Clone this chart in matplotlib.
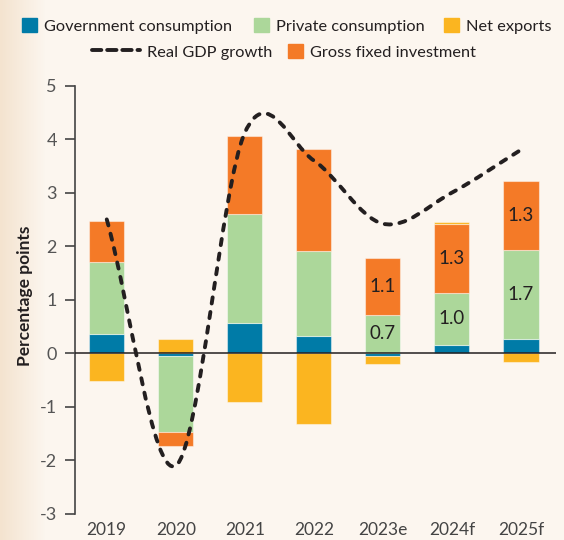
import matplotlib
matplotlib.use('Agg')
import matplotlib.pyplot as plt
import matplotlib.patches as mpatches
from matplotlib.path import Path
from matplotlib.lines import Line2D
import numpy as np

years = ['2019', '2020', '2021', '2022', '2023e', '2024f', '2025f']
gov = [0.35, -0.05, 0.56, 0.33, -0.06, 0.15, 0.26]
private = [1.36, -1.42, 2.04, 1.58, 0.72, 0.98, 1.67]
invest = [0.76, -0.26, 1.45, 1.90, 1.05, 1.28, 1.29]
net_exports = [-0.52, 0.26, -0.91, -1.32, -0.14, 0.05, -0.17]
gdp = [2.5, -2.1, 4.12, 3.6, 2.42, 3.0, 3.8]
private_labels = ['', '', '', '', '0.7', '1.0', '1.7']
invest_labels = ['', '', '', '', '1.1', '1.3', '1.3']

c_gov = '#007BA7'
c_priv = '#ACD79A'
c_net = '#FBB520'
c_inv = '#F47A27'
c_text = '#231F20'

plt.rcParams['font.family'] = ['Lato', 'DejaVu Sans']
plt.rcParams['axes.unicode_minus'] = False

fig = plt.figure(figsize=(5.64, 5.40), dpi=100, facecolor='#FCF6EF')

# soft tan shading on the left edge
bg = fig.add_axes([0, 0, 1, 1], zorder=-10)
bg.axis('off')
grad = np.zeros((2, 564, 4))
grad[:, :, :3] = np.array([0xF4, 0xE3, 0xCF]) / 255
grad[:, :, 3] = np.clip(1 - np.arange(564) / 45.0, 0, 1)
bg.imshow(grad, aspect='auto', extent=[0, 1, 0, 1])

ax = fig.add_axes([0.133, 0.0485, 0.853, 0.793])
ax.set_facecolor('none')

x = np.arange(len(years))
pos_base = np.zeros(len(years))
neg_base = np.zeros(len(years))
containers = []
for vals, col in zip([gov, private, invest, net_exports], [c_gov, c_priv, c_inv, c_net]):
    v = np.array(vals)
    bottom = np.where(v >= 0, pos_base, neg_base)
    bars = ax.bar(x, v, 0.51, bottom=bottom, color=col,
                  edgecolor=(1, 1, 1, 0.45), linewidth=0.8, zorder=2)
    containers.append(bars)
    pos_base += np.where(v >= 0, v, 0)
    neg_base += np.where(v < 0, v, 0)

ax.bar_label(containers[1], labels=private_labels, label_type='center',
             fontsize=13.5, color=c_text)
ax.bar_label(containers[2], labels=invest_labels, label_type='center',
             fontsize=13.5, color=c_text)

ax.axhline(0, color=c_text, lw=1.1, zorder=3)

# smoothed GDP line (Catmull-Rom as cubic Bezier)
y = np.array(gdp)
n = len(y)
m = np.zeros(n)
m[1:-1] = (y[2:] - y[:-2]) / 2
m[0] = y[1] - y[0]
m[-1] = y[-1] - y[-2]
verts = [(x[0], y[0])]
codes = [Path.MOVETO]
for i in range(n - 1):
    verts += [(x[i] + 1 / 3, y[i] + m[i] / 3),
              (x[i + 1] - 1 / 3, y[i + 1] - m[i + 1] / 3),
              (x[i + 1], y[i + 1])]
    codes += [Path.CURVE4] * 3
gdp_patch = mpatches.PathPatch(Path(verts, codes), fill=False, edgecolor=c_text,
                               lw=2.8, linestyle=(0, (1.6, 2.2)), capstyle='round',
                               zorder=4)
ax.add_patch(gdp_patch)

ax.set_xlim(-0.46, 6.51)
ax.set_ylim(-3, 5)
ax.set_xticks(x)
ax.set_xticklabels(years)
ax.set_yticks(range(-3, 6))
for s in ['top', 'right', 'bottom']:
    ax.spines[s].set_visible(False)
ax.spines['left'].set_color('#444444')
ax.spines['left'].set_linewidth(1.2)
ax.tick_params(axis='y', length=7, width=1.2, color='#444444', pad=6,
               labelsize=13, labelcolor='#555555')
ax.tick_params(axis='x', length=0, pad=6, labelsize=12.5, labelcolor='#444444')

ax.set_ylabel('Percentage points', fontsize=12.5, fontweight='bold', color=c_text)
ax.yaxis.set_label_coords(-0.0875, 0.51)

# legend, one entry at a time to keep the original placement
gdp_handle = Line2D([], [], color=c_text, lw=2.8, linestyle=(0, (2.4, 1.5)),
                    dash_capstyle='round')
entries = [
    (mpatches.Patch(color=c_gov), 'Government consumption', 22, 26, 0.9),
    (mpatches.Patch(color=c_priv), 'Private consumption', 254, 26, 0.9),
    (mpatches.Patch(color=c_net), 'Net exports', 444, 26, 0.9),
    (gdp_handle, 'Real GDP growth', 92, 52, 2.9),
    (mpatches.Patch(color=c_inv), 'Gross fixed investment', 288, 52, 0.9),
]
for handle, label, px, py, hl in entries:
    leg = fig.legend(handles=[handle], labels=[label], loc='center left',
                     bbox_to_anchor=(px / 564, 1 - py / 540), frameon=False,
                     fontsize=11.8, handlelength=hl, handleheight=0.9,
                     handletextpad=0.46, borderpad=0, borderaxespad=0)
    for t in leg.get_texts():
        t.set_color(c_text)

plt.savefig('out.png', dpi=100, facecolor=fig.get_facecolor())
